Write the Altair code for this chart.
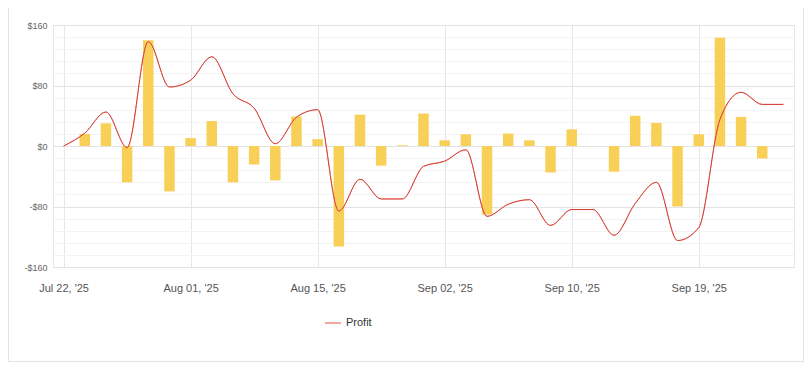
import json
import altair as alt
import pandas as pd

# ---- data ----
idx = list(range(35))
daily_profit = [0, 16, 30, -48, 140, -60, 10.5, 33, -48, -24.5, -45.5,
                39, 9, -133, 41.5, -26, 1, 43, 7.5, 15.5, -90.5,
                16.5, 7.5, -35, 22, 0, -34, 40, 30.5, -80, 15.5,
                143, 38.5, -16.5, 0]
profit_line = [0, 17, 45, -2, 138, 78, 87, 118, 69, 50, 3,
               38, 48, -86, -44, -70, -70, -27, -20, -5, -93,
               -77, -71, -105, -84, -84, -118, -76, -48, -125, -108,
               35, 71, 55, 55]
tick_index = [0, 6, 12, 18, 24, 30]
tick_labels = ["Jul 22, '25", "Aug 01, '25", "Aug 15, '25",
               "Sep 02, '25", "Sep 10, '25", "Sep 19, '25"]
y_major = [-160, -80, 0, 80, 160]
y_minor = list(range(-160, 161, 16))
series_name = ["Profit"] * len(idx)

df = pd.DataFrame({"idx": idx, "bar": daily_profit, "line": profit_line,
                   "series": series_name})

W, H = 741, 242
PAD = {"left": 45, "top": 17, "right": 10, "bottom": 95}
TOTAL_H = PAD["top"] + H + PAD["bottom"]
FONT = "Arial, Liberation Sans, sans-serif"
LINE_RED = "#d83c31"

x_label_expr = f"{json.dumps(tick_labels)}[indexof({json.dumps(tick_index)}, datum.value)]"

xenc = alt.X("idx:Q",
             scale=alt.Scale(domain=[-0.5, 34.5], nice=False, zero=False, padding=0),
             axis=alt.Axis(values=tick_index, labelExpr=x_label_expr, title=None,
                           grid=True, gridColor="#e6e6e6", ticks=False, domain=False,
                           labelPadding=15, labelFontSize=11, labelColor="#555555",
                           labelFont=FONT))

yscale = alt.Scale(domain=[-160, 160], nice=False, zero=False, padding=0)

bars = alt.Chart(df).mark_bar(color="#F8D058", size=10.5).encode(
    x=xenc,
    y=alt.Y("bar:Q", scale=yscale,
            axis=alt.Axis(values=y_minor, grid=True, gridColor="#f3f3f3",
                          labels=False, ticks=False, domain=False, title=None,
                          orient="left")),
)

yline = alt.Y("line:Q", scale=yscale,
              axis=alt.Axis(values=y_major, grid=True, gridColor="#e3e3e3",
                            ticks=False, domain=False, title=None, orient="left",
                            labelExpr="datum.value < 0 ? '-$' + abs(datum.value) : '$' + datum.value",
                            labelFontSize=9, labelColor="#666666", labelPadding=6,
                            labelFont=FONT))

# legend carrier (pink swatch), hidden exactly beneath the red line
legend_line = alt.Chart(df).mark_line(interpolate="monotone", strokeWidth=1).encode(
    x=xenc, y=yline,
    color=alt.Color("series:N", scale=alt.Scale(range=["#eea7a1"]),
                    legend=alt.Legend(title=None, orient="none", legendX=271, legendY=289,
                                      symbolType="stroke", symbolStrokeWidth=2,
                                      symbolSize=256,
                                      labelFontSize=11, labelColor="#333333",
                                      labelFont=FONT)),
)

line = alt.Chart(df).mark_line(interpolate="monotone", strokeWidth=1, color=LINE_RED).encode(
    x=xenc, y=alt.Y("line:Q", scale=yscale, axis=None),
)

frame = alt.Chart(pd.DataFrame({"a": [0]})).mark_rect(
    fillOpacity=0, stroke="#e2e2e2", strokeWidth=1).encode(
    x=alt.value(-PAD["left"] + 0.5), x2=alt.value(W + PAD["right"] - 0.5),
    y=alt.value(-40), y2=alt.value(TOTAL_H - PAD["top"] - 0.5))

chart = alt.layer(frame, bars, legend_line, line).resolve_axis(y="independent").resolve_scale(
    y="shared").properties(
    width=W, height=H,
    autosize=alt.AutoSizeParams(type="none"),
    padding=PAD,
).configure_view(stroke="#e6e6e6")

chart.save("out.html", embed_options={"renderer": "svg", "actions": False})
